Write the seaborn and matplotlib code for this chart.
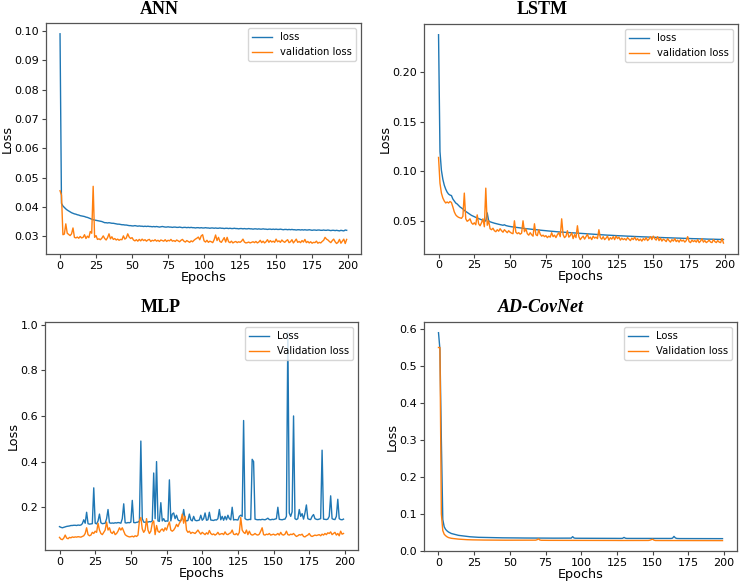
import numpy as np
import pandas as pd
import matplotlib
matplotlib.use("Agg")
import matplotlib.pyplot as plt
import seaborn as sns

epochs = list(range(200))

ann_loss = [
0.0990,0.0412,0.0403,0.0398,0.0393,0.0389,0.0386,0.0383,0.0380,0.0378,
0.0376,0.0375,0.0373,0.0372,0.0370,0.0369,0.0368,0.0367,0.0365,0.0364,
0.0362,0.0360,0.0358,0.0356,0.0355,0.0354,0.0353,0.0352,0.0351,0.0350,
0.0348,0.0346,0.0346,0.0345,0.0346,0.0345,0.0344,0.0344,0.0343,0.0342,
0.0341,0.0341,0.0340,0.0339,0.0339,0.0338,0.0338,0.0337,0.0336,0.0336,
0.0335,0.0335,0.0336,0.0335,0.0334,0.0335,0.0334,0.0334,0.0333,0.0334,
0.0333,0.0334,0.0333,0.0333,0.0332,0.0333,0.0332,0.0333,0.0332,0.0331,
0.0332,0.0333,0.0332,0.0331,0.0331,0.0332,0.0331,0.0331,0.0330,0.0331,
0.0331,0.0330,0.0330,0.0331,0.0330,0.0329,0.0330,0.0330,0.0329,0.0330,
0.0329,0.0330,0.0329,0.0329,0.0328,0.0329,0.0329,0.0328,0.0329,0.0328,
0.0328,0.0329,0.0328,0.0328,0.0327,0.0328,0.0328,0.0327,0.0328,0.0327,
0.0327,0.0328,0.0327,0.0327,0.0326,0.0327,0.0327,0.0326,0.0327,0.0326,
0.0326,0.0327,0.0326,0.0326,0.0325,0.0326,0.0326,0.0325,0.0326,0.0325,
0.0325,0.0326,0.0325,0.0325,0.0324,0.0325,0.0325,0.0324,0.0325,0.0324,
0.0324,0.0325,0.0324,0.0324,0.0323,0.0324,0.0324,0.0323,0.0324,0.0323,
0.0324,0.0323,0.0323,0.0324,0.0323,0.0322,0.0323,0.0323,0.0322,0.0323,
0.0322,0.0323,0.0322,0.0322,0.0321,0.0322,0.0322,0.0321,0.0322,0.0321,
0.0322,0.0321,0.0321,0.0322,0.0321,0.0320,0.0321,0.0321,0.0320,0.0321,
0.0321,0.0320,0.0320,0.0321,0.0320,0.0320,0.0321,0.0320,0.0319,0.0320,
0.0320,0.0319,0.0320,0.0319,0.0318,0.0320,0.0319,0.0318,0.0321,0.0320]

ann_val = [
0.0455,0.0440,0.0305,0.0307,0.0342,0.0310,0.0306,0.0302,0.0308,0.0328,
0.0296,0.0294,0.0297,0.0293,0.0299,0.0294,0.0296,0.0305,0.0292,0.0300,
0.0295,0.0316,0.0310,0.0470,0.0296,0.0302,0.0289,0.0291,0.0288,0.0293,
0.0301,0.0292,0.0287,0.0295,0.0308,0.0291,0.0298,0.0289,0.0292,0.0287,
0.0290,0.0286,0.0289,0.0288,0.0301,0.0290,0.0294,0.0308,0.0297,0.0292,
0.0295,0.0287,0.0284,0.0288,0.0283,0.0289,0.0284,0.0290,0.0285,0.0288,
0.0283,0.0287,0.0289,0.0282,0.0286,0.0284,0.0288,0.0283,0.0286,0.0282,
0.0287,0.0285,0.0283,0.0288,0.0282,0.0286,0.0284,0.0289,0.0283,0.0285,
0.0282,0.0287,0.0284,0.0281,0.0286,0.0289,0.0283,0.0280,0.0285,0.0282,
0.0279,0.0284,0.0281,0.0286,0.0290,0.0293,0.0297,0.0288,0.0301,0.0305,
0.0284,0.0280,0.0286,0.0279,0.0283,0.0281,0.0278,0.0288,0.0304,0.0285,
0.0296,0.0282,0.0279,0.0287,0.0295,0.0280,0.0296,0.0281,0.0278,0.0283,
0.0277,0.0280,0.0282,0.0278,0.0281,0.0279,0.0283,0.0290,0.0280,0.0277,
0.0278,0.0280,0.0277,0.0279,0.0281,0.0278,0.0282,0.0277,0.0280,0.0286,
0.0278,0.0283,0.0277,0.0281,0.0288,0.0279,0.0285,0.0280,0.0283,0.0279,
0.0290,0.0281,0.0284,0.0279,0.0287,0.0282,0.0279,0.0284,0.0288,0.0278,
0.0281,0.0288,0.0277,0.0283,0.0290,0.0279,0.0282,0.0278,0.0285,0.0280,
0.0289,0.0278,0.0282,0.0277,0.0281,0.0276,0.0279,0.0278,0.0283,0.0276,
0.0279,0.0277,0.0282,0.0286,0.0296,0.0290,0.0287,0.0282,0.0278,0.0285,
0.0290,0.0281,0.0275,0.0279,0.0289,0.0276,0.0283,0.0290,0.0275,0.0289]

lstm_loss = [
0.2380,0.1200,0.1010,0.0920,0.0860,0.0820,0.0790,0.0770,0.0760,0.0755,
0.0720,0.0700,0.0680,0.0670,0.0655,0.0640,0.0630,0.0620,0.0605,0.0595,
0.0585,0.0575,0.0565,0.0555,0.0548,0.0540,0.0535,0.0528,0.0522,0.0517,
0.0510,0.0505,0.0500,0.0498,0.0580,0.0500,0.0490,0.0485,0.0480,0.0476,
0.0472,0.0468,0.0465,0.0462,0.0458,0.0455,0.0460,0.0452,0.0448,0.0445,
0.0442,0.0440,0.0438,0.0436,0.0434,0.0432,0.0430,0.0428,0.0426,0.0425,
0.0423,0.0421,0.0420,0.0418,0.0416,0.0415,0.0413,0.0412,0.0410,0.0409,
0.0407,0.0406,0.0404,0.0403,0.0401,0.0400,0.0398,0.0397,0.0396,0.0394,
0.0393,0.0392,0.0390,0.0389,0.0388,0.0387,0.0386,0.0384,0.0383,0.0382,
0.0381,0.0380,0.0379,0.0378,0.0377,0.0376,0.0375,0.0374,0.0373,0.0372,
0.0371,0.0370,0.0369,0.0368,0.0367,0.0366,0.0365,0.0365,0.0364,0.0363,
0.0362,0.0361,0.0360,0.0359,0.0359,0.0358,0.0357,0.0356,0.0355,0.0355,
0.0354,0.0353,0.0352,0.0352,0.0351,0.0350,0.0349,0.0349,0.0348,0.0347,
0.0347,0.0346,0.0345,0.0345,0.0344,0.0343,0.0343,0.0342,0.0341,0.0341,
0.0340,0.0339,0.0339,0.0338,0.0338,0.0337,0.0336,0.0336,0.0335,0.0335,
0.0334,0.0333,0.0333,0.0332,0.0332,0.0331,0.0331,0.0330,0.0330,0.0329,
0.0329,0.0328,0.0328,0.0327,0.0327,0.0326,0.0326,0.0325,0.0325,0.0324,
0.0324,0.0323,0.0323,0.0322,0.0322,0.0321,0.0321,0.0320,0.0320,0.0319,
0.0319,0.0318,0.0318,0.0318,0.0317,0.0317,0.0316,0.0316,0.0315,0.0315,
0.0315,0.0314,0.0314,0.0313,0.0313,0.0313,0.0312,0.0312,0.0311,0.0311]

lstm_val = [
0.1140,0.0880,0.0780,0.0730,0.0700,0.0680,0.0690,0.0680,0.0695,0.0685,
0.0640,0.0590,0.0560,0.0545,0.0535,0.0530,0.0525,0.0545,0.0780,0.0520,
0.0495,0.0505,0.0520,0.0480,0.0465,0.0480,0.0460,0.0560,0.0470,0.0450,
0.0480,0.0520,0.0440,0.0830,0.0455,0.0500,0.0420,0.0410,0.0425,0.0400,
0.0390,0.0410,0.0395,0.0420,0.0400,0.0385,0.0410,0.0395,0.0380,0.0400,
0.0385,0.0375,0.0370,0.0500,0.0385,0.0370,0.0380,0.0365,0.0375,0.0500,
0.0390,0.0420,0.0370,0.0355,0.0380,0.0360,0.0345,0.0470,0.0360,0.0350,
0.0410,0.0365,0.0345,0.0355,0.0340,0.0350,0.0330,0.0345,0.0335,0.0380,
0.0340,0.0355,0.0330,0.0360,0.0380,0.0340,0.0520,0.0360,0.0330,0.0345,
0.0400,0.0335,0.0350,0.0380,0.0320,0.0360,0.0330,0.0450,0.0340,0.0310,
0.0330,0.0345,0.0315,0.0340,0.0365,0.0320,0.0335,0.0310,0.0345,0.0325,
0.0335,0.0320,0.0410,0.0330,0.0315,0.0340,0.0310,0.0325,0.0345,0.0305,
0.0330,0.0315,0.0340,0.0310,0.0345,0.0320,0.0335,0.0305,0.0325,0.0310,
0.0320,0.0305,0.0330,0.0315,0.0300,0.0325,0.0310,0.0335,0.0305,0.0320,
0.0300,0.0315,0.0295,0.0320,0.0305,0.0330,0.0300,0.0315,0.0340,0.0310,
0.0345,0.0320,0.0305,0.0340,0.0300,0.0325,0.0295,0.0315,0.0305,0.0290,
0.0320,0.0300,0.0285,0.0310,0.0295,0.0320,0.0290,0.0305,0.0285,0.0310,
0.0295,0.0305,0.0285,0.0300,0.0340,0.0290,0.0280,0.0305,0.0290,0.0300,
0.0285,0.0310,0.0280,0.0295,0.0320,0.0285,0.0300,0.0280,0.0290,0.0305,
0.0285,0.0280,0.0310,0.0290,0.0280,0.0300,0.0285,0.0280,0.0320,0.0275]

mlp_loss = [
0.115,0.112,0.110,0.112,0.114,0.116,0.117,0.118,0.120,0.120,
0.121,0.121,0.120,0.122,0.121,0.122,0.128,0.145,0.130,0.178,
0.128,0.126,0.127,0.128,0.285,0.130,0.127,0.140,0.170,0.132,
0.128,0.129,0.130,0.150,0.190,0.132,0.130,0.131,0.130,0.132,
0.131,0.133,0.132,0.130,0.150,0.215,0.132,0.131,0.133,0.132,
0.135,0.230,0.133,0.132,0.134,0.135,0.140,0.490,0.150,0.135,
0.134,0.136,0.135,0.137,0.136,0.140,0.350,0.150,0.400,0.140,
0.138,0.220,0.140,0.150,0.138,0.140,0.139,0.320,0.140,0.170,
0.175,0.150,0.165,0.145,0.140,0.142,0.150,0.190,0.145,0.140,
0.142,0.170,0.145,0.140,0.160,0.143,0.141,0.142,0.144,0.165,
0.143,0.150,0.175,0.143,0.145,0.178,0.144,0.143,0.142,0.145,
0.144,0.150,0.190,0.145,0.160,0.143,0.160,0.145,0.165,0.150,
0.145,0.200,0.144,0.146,0.145,0.144,0.160,0.165,0.160,0.580,
0.150,0.146,0.145,0.147,0.146,0.410,0.400,0.148,0.146,0.145,
0.146,0.145,0.147,0.146,0.145,0.148,0.152,0.146,0.145,0.147,
0.146,0.148,0.150,0.200,0.147,0.146,0.145,0.147,0.148,0.160,
0.965,0.175,0.160,0.180,0.600,0.150,0.146,0.150,0.190,0.160,
0.172,0.148,0.175,0.210,0.150,0.147,0.146,0.160,0.168,0.150,
0.147,0.146,0.148,0.150,0.450,0.148,0.147,0.146,0.148,0.160,
0.250,0.150,0.147,0.146,0.160,0.235,0.150,0.146,0.145,0.148]

mlp_val = [
0.068,0.060,0.058,0.065,0.078,0.065,0.062,0.068,0.066,0.070,
0.068,0.070,0.069,0.071,0.070,0.069,0.072,0.075,0.085,0.110,
0.080,0.075,0.078,0.090,0.085,0.095,0.090,0.130,0.100,0.085,
0.080,0.090,0.100,0.135,0.100,0.110,0.090,0.085,0.095,0.080,
0.085,0.095,0.110,0.100,0.110,0.095,0.080,0.075,0.072,0.070,
0.071,0.073,0.070,0.075,0.072,0.078,0.140,0.155,0.105,0.090,
0.100,0.150,0.100,0.085,0.095,0.130,0.140,0.080,0.120,0.095,
0.090,0.100,0.105,0.095,0.110,0.100,0.120,0.135,0.100,0.095,
0.100,0.110,0.125,0.115,0.130,0.140,0.170,0.130,0.160,0.100,
0.090,0.095,0.085,0.090,0.088,0.085,0.092,0.100,0.090,0.082,
0.090,0.085,0.080,0.088,0.082,0.098,0.085,0.080,0.083,0.078,
0.082,0.090,0.080,0.083,0.085,0.080,0.092,0.082,0.080,0.085,
0.088,0.100,0.082,0.080,0.085,0.078,0.090,0.155,0.100,0.090,
0.085,0.100,0.080,0.095,0.082,0.078,0.080,0.085,0.080,0.078,
0.082,0.095,0.110,0.080,0.078,0.082,0.080,0.085,0.078,0.080,
0.082,0.078,0.080,0.085,0.078,0.090,0.080,0.078,0.082,0.095,
0.080,0.078,0.082,0.080,0.085,0.078,0.072,0.075,0.080,0.078,
0.082,0.072,0.070,0.075,0.078,0.085,0.075,0.072,0.075,0.078,
0.076,0.078,0.080,0.075,0.082,0.078,0.085,0.080,0.088,0.085,
0.092,0.080,0.085,0.090,0.078,0.085,0.075,0.095,0.082,0.085]

ad_loss = [
0.5900,0.5450,0.3000,0.0850,0.0650,0.0580,0.0540,0.0510,0.0490,0.0470,
0.0460,0.0450,0.0440,0.0430,0.0420,0.0415,0.0410,0.0405,0.0400,0.0395,
0.0390,0.0386,0.0382,0.0379,0.0376,0.0373,0.0371,0.0369,0.0367,0.0366,
0.0364,0.0363,0.0362,0.0361,0.0360,0.0359,0.0358,0.0358,0.0357,0.0356,
0.0356,0.0355,0.0355,0.0354,0.0354,0.0353,0.0353,0.0352,0.0352,0.0352,
0.0351,0.0351,0.0351,0.0350,0.0350,0.0350,0.0349,0.0349,0.0349,0.0349,
0.0348,0.0348,0.0348,0.0348,0.0347,0.0347,0.0347,0.0347,0.0346,0.0346,
0.0348,0.0346,0.0346,0.0345,0.0345,0.0345,0.0345,0.0345,0.0344,0.0344,
0.0344,0.0344,0.0344,0.0343,0.0343,0.0343,0.0343,0.0343,0.0343,0.0342,
0.0342,0.0342,0.0342,0.0345,0.0385,0.0348,0.0342,0.0341,0.0341,0.0341,
0.0341,0.0341,0.0341,0.0340,0.0340,0.0340,0.0340,0.0340,0.0340,0.0340,
0.0339,0.0339,0.0339,0.0339,0.0339,0.0339,0.0339,0.0338,0.0338,0.0338,
0.0338,0.0338,0.0338,0.0338,0.0338,0.0337,0.0337,0.0337,0.0337,0.0340,
0.0365,0.0342,0.0337,0.0337,0.0336,0.0336,0.0336,0.0336,0.0336,0.0336,
0.0336,0.0336,0.0335,0.0335,0.0335,0.0335,0.0335,0.0335,0.0335,0.0335,
0.0338,0.0335,0.0334,0.0334,0.0334,0.0334,0.0334,0.0334,0.0334,0.0334,
0.0334,0.0334,0.0334,0.0336,0.0345,0.0392,0.0350,0.0336,0.0333,0.0333,
0.0333,0.0333,0.0333,0.0333,0.0333,0.0333,0.0333,0.0333,0.0333,0.0332,
0.0332,0.0332,0.0332,0.0332,0.0332,0.0332,0.0332,0.0332,0.0332,0.0332,
0.0332,0.0332,0.0332,0.0332,0.0331,0.0331,0.0331,0.0331,0.0331,0.0331]

ad_val = [
0.5500,0.5500,0.1000,0.0550,0.0450,0.0410,0.0380,0.0360,0.0350,0.0340,
0.0335,0.0330,0.0325,0.0320,0.0318,0.0315,0.0312,0.0310,0.0308,0.0305,
0.0303,0.0301,0.0300,0.0299,0.0298,0.0297,0.0296,0.0296,0.0295,0.0295,
0.0294,0.0294,0.0293,0.0293,0.0292,0.0292,0.0292,0.0291,0.0291,0.0291,
0.0290,0.0290,0.0290,0.0290,0.0289,0.0289,0.0289,0.0289,0.0289,0.0288,
0.0288,0.0288,0.0288,0.0288,0.0288,0.0287,0.0289,0.0287,0.0287,0.0287,
0.0287,0.0287,0.0286,0.0286,0.0286,0.0286,0.0286,0.0287,0.0290,0.0300,
0.0325,0.0295,0.0287,0.0286,0.0285,0.0285,0.0285,0.0285,0.0285,0.0285,
0.0285,0.0285,0.0284,0.0284,0.0284,0.0284,0.0284,0.0284,0.0284,0.0284,
0.0284,0.0284,0.0284,0.0284,0.0284,0.0284,0.0283,0.0283,0.0283,0.0283,
0.0283,0.0283,0.0283,0.0283,0.0283,0.0283,0.0283,0.0283,0.0283,0.0283,
0.0282,0.0282,0.0282,0.0282,0.0282,0.0282,0.0282,0.0282,0.0282,0.0282,
0.0282,0.0282,0.0282,0.0282,0.0282,0.0281,0.0281,0.0281,0.0281,0.0281,
0.0281,0.0281,0.0281,0.0281,0.0281,0.0281,0.0281,0.0281,0.0281,0.0281,
0.0281,0.0281,0.0281,0.0280,0.0280,0.0280,0.0280,0.0282,0.0288,0.0300,
0.0315,0.0290,0.0281,0.0280,0.0280,0.0280,0.0280,0.0280,0.0280,0.0280,
0.0280,0.0280,0.0280,0.0280,0.0280,0.0280,0.0279,0.0279,0.0279,0.0279,
0.0279,0.0279,0.0279,0.0279,0.0279,0.0279,0.0279,0.0279,0.0279,0.0279,
0.0279,0.0279,0.0279,0.0279,0.0279,0.0278,0.0278,0.0278,0.0278,0.0278,
0.0278,0.0278,0.0278,0.0278,0.0278,0.0278,0.0278,0.0278,0.0278,0.0278]

titles = ["ANN", "LSTM", "MLP", "AD-CovNet"]
legend_top = ["loss", "validation loss"]
legend_bottom = ["Loss", "Validation loss"]

panels = [
    (ann_loss, ann_val, legend_top, [45.7, 361, 23.3, 254]),
    (lstm_loss, lstm_val, legend_top, [424.3, 737.7, 24.3, 253.5]),
    (mlp_loss, mlp_val, legend_bottom, [45.3, 357.7, 322.3, 550]),
    (ad_loss, ad_val, legend_bottom, [424.3, 736.7, 322.3, 551]),
]
# title baseline positions (pixels from top-left)
title_pos = [(159, 13.5), (542, 13.5), (161, 311.5), (541, 311.5)]

W, H = 740, 583
fig = plt.figure(figsize=(W / 100, H / 100), dpi=100)
blue, orange = "#1f77b4", "#ff7f0e"

for i, (loss, val, labels, (l, r, t, b)) in enumerate(panels):
    ax = fig.add_axes([l / W, 1 - b / H, (r - l) / W, (b - t) / H])
    df = pd.DataFrame({"Epoch": epochs, "loss": loss, "val": val})
    sns.lineplot(data=df, x="Epoch", y="loss", ax=ax, color=blue, linewidth=1.0, label=labels[0])
    sns.lineplot(data=df, x="Epoch", y="val", ax=ax, color=orange, linewidth=1.0, label=labels[1])
    ax.set_xlabel("Epochs", fontsize=9.2, labelpad=0)
    ax.set_ylabel("Loss", fontsize=9.2, labelpad=0.5)
    ax.tick_params(labelsize=8.0, length=3, width=0.8, color="#444444", pad=2)
    for s in ax.spines.values():
        s.set_color("#555555")
        s.set_linewidth(0.9)
    ax.set_xticks([0, 25, 50, 75, 100, 125, 150, 175, 200])
    ax.legend(loc="upper right", fontsize=7.2)
    tx, ty = title_pos[i]
    style = "italic" if titles[i] == "AD-CovNet" else "normal"
    fig.text(tx / W, 1 - ty / H, titles[i], ha="center", va="baseline",
             fontfamily="Liberation Serif", fontweight="bold", fontstyle=style, fontsize=13)

fig.savefig("out.png", dpi=100)
